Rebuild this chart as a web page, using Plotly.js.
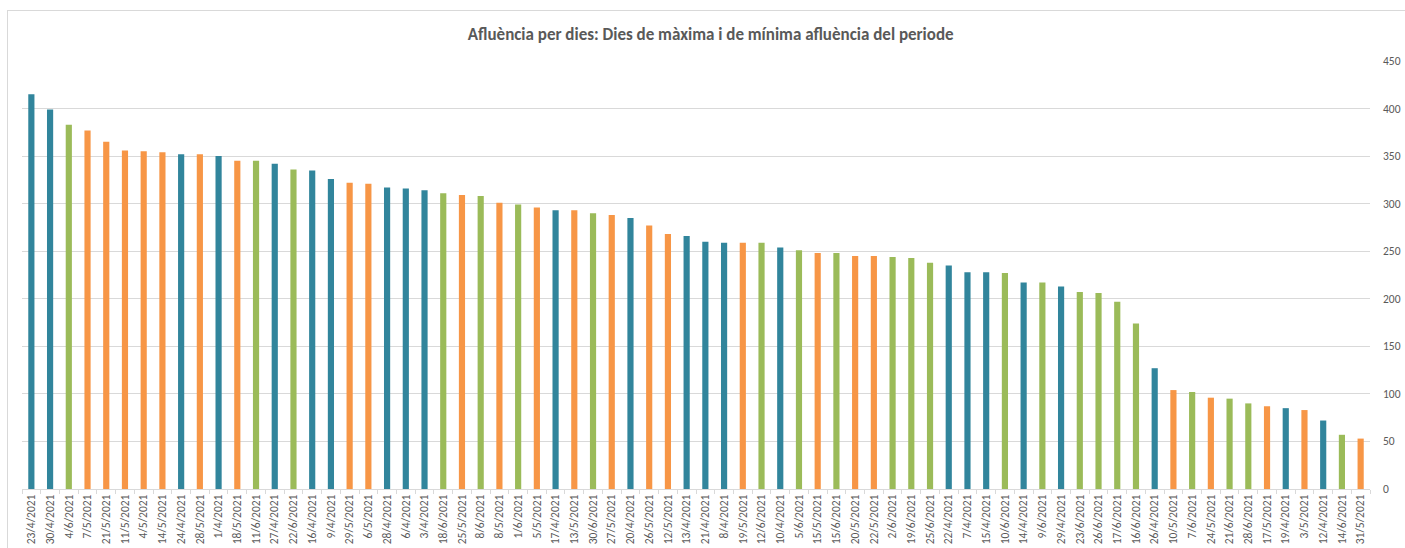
<!DOCTYPE html>
<html>
<head>
<meta charset="utf-8">
<script src="https://cdn.plot.ly/plotly-3.0.1.min.js"></script>
<style>
html,body{margin:0;padding:0;background:#fff;overflow:hidden;width:1405px;height:548px;}
#frame{position:absolute;left:7px;top:10px;width:1397px;height:540px;border-left:1px solid #d9d9d9;border-top:1px solid #d9d9d9;}
#chart{width:1397px;height:538px;}
</style>
</head>
<body>
<div id="frame"><div id="chart"></div></div>
<script>
const dates = ["23/4/2021","30/4/2021","4/6/2021","7/5/2021","21/5/2021","11/5/2021","4/5/2021","14/5/2021","24/4/2021","28/5/2021","1/4/2021","18/5/2021","11/6/2021","27/4/2021","22/6/2021","16/4/2021","9/4/2021","29/5/2021","6/5/2021","28/4/2021","6/4/2021","3/4/2021","18/6/2021","25/5/2021","8/6/2021","8/5/2021","1/6/2021","5/5/2021","17/4/2021","13/5/2021","30/6/2021","27/5/2021","20/4/2021","26/5/2021","12/5/2021","13/4/2021","21/4/2021","8/4/2021","19/5/2021","12/6/2021","10/4/2021","5/6/2021","15/5/2021","15/6/2021","20/5/2021","22/5/2021","2/6/2021","19/6/2021","25/6/2021","22/4/2021","7/4/2021","15/4/2021","10/6/2021","14/4/2021","9/6/2021","29/4/2021","23/6/2021","26/6/2021","17/6/2021","16/6/2021","26/4/2021","10/5/2021","7/6/2021","24/5/2021","21/6/2021","28/6/2021","17/5/2021","19/4/2021","3/5/2021","12/4/2021","14/6/2021","31/5/2021"];
const visitors = [415,399,383,377,365,356,355,354,352,352,350,345,345,342,336,335,326,322,321,317,316,314,311,309,308,301,299,296,293,293,290,288,285,277,268,266,260,259,259,259,254,251,248,248,245,245,244,243,238,235,228,228,227,217,217,213,207,206,197,174,127,104,102,96,95,90,87,85,83,72,57,53];
const monthColors = {"4":"#31859c","5":"#f79646","6":"#9bbb59"};
const yTicks = [0,50,100,150,200,250,300,350,400,450];

const colors = dates.map(d => monthColors[d.split("/")[1]]);
const FONT = "Calibri, Carlito, Lato, sans-serif";

Plotly.newPlot("chart", [{
  type: "bar",
  x: dates,
  y: visitors,
  marker: {color: colors, line: {width: 0}},
  hoverinfo: "x+y"
}], {
  width: 1397, height: 538,
  margin: {l: 14, r: 35, t: 50, b: 60, autoexpand: false},
  paper_bgcolor: "#fff", plot_bgcolor: "#fff",
  bargap: 0.67,
  showlegend: false,
  title: {text: "<b>Afluència per dies: Dies de màxima i de mínima afluència del periode</b>",
    font: {family: FONT, size: 17, color: "#595959"}, x: 0.503, xanchor: "center", y: 0.958, yanchor: "middle"},
  xaxis: {type: "category", tickangle: -90, automargin: false, tickfont: {family: FONT, size: 11.5, color: "#595959"},
    showline: true, linecolor: "#d9d9d9", linewidth: 1, ticks: "outside", tickson: "boundaries",
    ticklen: 4, tickcolor: "#d9d9d9", showgrid: false, fixedrange: true},
  yaxis: {side: "right", range: [0, 450], automargin: false, tickvals: yTicks, ticktext: yTicks.map(String),
    tickfont: {family: FONT, size: 11.5, color: "#595959"}, showgrid: true, gridcolor: "#d9d9d9",
    gridwidth: 1, zeroline: false, showline: false, ticks: "", ticklabelstandoff: 12, fixedrange: true}
}, {displayModeBar: false, staticPlot: true});
</script>
</body>
</html>
